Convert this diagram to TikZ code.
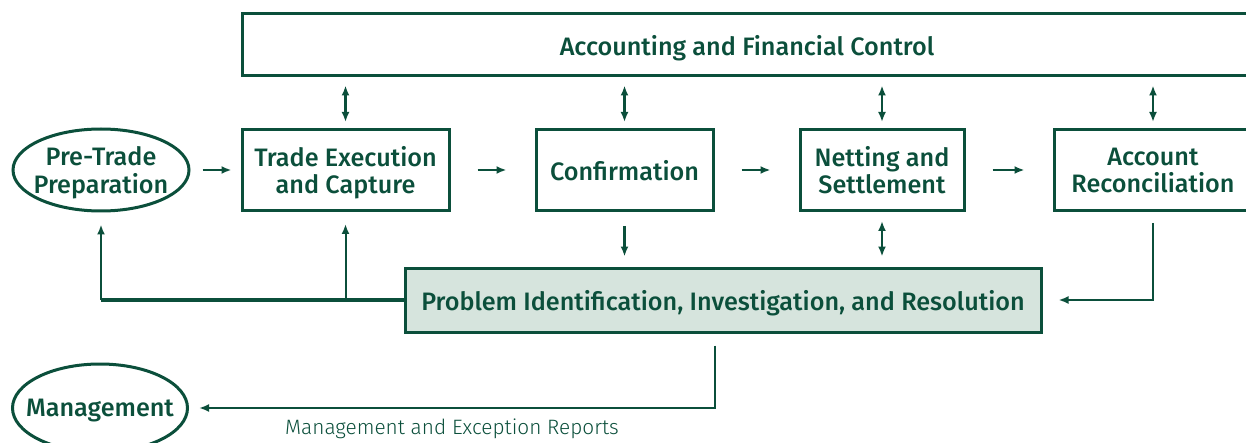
\documentclass[tikz,border=0pt]{standalone}
\usepackage{fontspec}
\setmainfont{Fira Sans}[BoldFont={Fira Sans Medium}]
\newfontfamily\lightfont{Fira Sans Light}
\usetikzlibrary{arrows.meta,shapes.geometric}
\definecolor{dkgreen}{HTML}{0B4F3B}
\definecolor{ltgreen}{HTML}{D6E4DD}

\begin{document}
\begin{tikzpicture}[x=0.5pt, y=-0.5pt,
	box/.style={draw=dkgreen, line width=1.5pt, rectangle, text=dkgreen, align=center, inner sep=0pt, text depth=0pt, font=\bfseries\fontsize{12.6}{13.6}\selectfont},
	oval/.style={box, ellipse},
	link/.style={draw=dkgreen, line width=1.2pt, -{Latex[length=5pt,width=4pt]}},
	twoway/.style={link, {Latex[length=5pt,width=4pt]}-{Latex[length=5pt,width=4pt]}},
	step arrow/.style={link, shorten <=13.5pt, shorten >=14pt},
	rptlabel/.style={text=dkgreen, inner sep=0pt, font=\lightfont\fontsize{10.4}{12}\selectfont}]
		\useasboundingbox (0,0) rectangle (1246,443);
		\clip (0,0) rectangle (1246,443);

		\node[box, minimum width=505pt, minimum height=31pt] (AFC) at (747,45) {Accounting and Financial Control};
		\node[oval, minimum width=88pt, minimum height=41pt, inner xsep=-6pt] (PTP) at (101,170) {Pre-Trade\\Preparation};
		\node[box, minimum width=103.5pt, minimum height=40.5pt] (TEC) at (345.5,170) {Trade Execution\\and Capture};
		\node[box, minimum width=88.5pt, minimum height=40.5pt] (CON) at (624.5,170) {Confirmation};
		\node[box, minimum width=82pt, minimum height=40.5pt] (NS) at (882,170) {Netting and\\Settlement};
		\node[box, minimum width=99pt, minimum height=40.5pt] (AR) at (1153,170) {Account\\Reconciliation};
		\node[box, fill=ltgreen, minimum width=318pt, minimum height=32pt] (PIR) at (723,300) {Problem Identification, Investigation, and Resolution};
		\node[oval, minimum width=87.5pt, minimum height=44pt, inner xsep=-11pt] (M) at (100,408) {Management};

		\path [link, shorten <=6pt, shorten >=4.5pt] (PTP) edge (TEC);
		\path [step arrow] (TEC) edge (CON);
		\path [step arrow] (CON) edge (NS);
		\path [step arrow] (NS) edge (AR);

		\draw [twoway, shorten <=4pt, shorten >=3pt] (TEC.north |- AFC.south) -- (TEC.north);
		\draw [twoway, shorten <=4pt, shorten >=3pt] (CON.north |- AFC.south) -- (CON.north);
		\draw [twoway, shorten <=4pt, shorten >=3pt] (NS.north |- AFC.south) -- (NS.north);
		\draw [twoway, shorten <=4pt, shorten >=3pt] (AR.north |- AFC.south) -- (AR.north);

		\draw [link, shorten <=7pt, shorten >=5pt] (CON.south) -- (CON.south |- PIR.north);
		\draw [twoway, shorten <=4.5pt, shorten >=5pt] (NS.south) -- (NS.south |- PIR.north);

		\draw [dkgreen, line width=2pt] (PIR.west) -- (PIR.west -| PTP.south);
		\draw [link, line width=1pt, shorten >=6pt] (PIR.west -| PTP.south) -- (PTP.south);
		\draw [link, line width=1pt, shorten >=6pt] (PIR.west -| TEC.south) -- (TEC.south);
		\draw [link, shorten <=5.5pt, shorten >=8pt] (AR.south) |- (PIR.east);
		\draw [link, shorten <=6pt, shorten >=5pt] ([xshift=-4pt]PIR.south) |- (M.east)
			node[rptlabel, pos=0.75, below=5pt] (MER) {Management and Exception Reports};
\end{tikzpicture}
\end{document}
